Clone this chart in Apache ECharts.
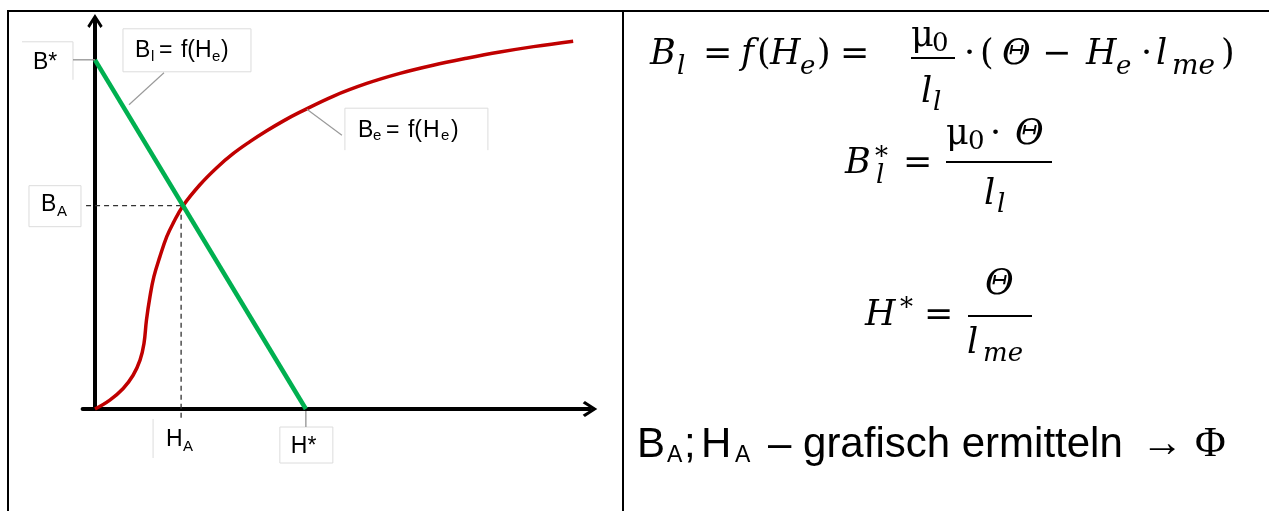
<!DOCTYPE html>
<html>
<head>
<meta charset="utf-8">
<script src="https://cdn.jsdelivr.net/npm/echarts@6/dist/echarts.min.js"></script>
<style>
  html, body { margin: 0; padding: 0; background: #fff; }
  #main { width: 1269px; height: 511px; }
</style>
</head>
<body>
<div id="main"></div>
<script>
// ---- data -------------------------------------------------------------
// Magnetisation curve of the iron path, B_e = f(H_e)
const curveH = [0, 3.0, 5.7, 7.7, 9.1, 9.9, 10.4, 11.1, 11.9, 13.1, 14.5, 15.8, 17.8,
                21.2, 24.6, 27.9, 31.3, 34.7, 38.0, 41.4, 48.1, 54.9, 61.6, 68.3, 75.1, 81.8, 88.6, 96.6];
const curveB = [0, 2.3, 5.3, 8.7, 12.6, 16.9, 22.9, 28.9, 34.1, 39.2, 44.4, 47.9, 52.4,
                57.8, 62.2, 65.8, 68.9, 71.7, 74.2, 76.5, 80.6, 83.9, 86.5, 88.6, 90.4, 92.0, 93.4, 94.8];
// Air-gap line B_l = f(H_e), from B* on the B axis down to H* on the H axis
const B_STAR = 90;
const H_STAR = 42.6;
const lineH = [0, H_STAR];
const lineB = [B_STAR, 0];
// Operating point, found graphically as the intersection
const H_A = 17.8;
const B_A = 52.4;
// Axis annotations
const labelBstar = 'B*';
const labelHstar = 'H*';

// ---- chart ------------------------------------------------------------
const chart = echarts.init(document.getElementById('main'), null, { renderer: 'canvas' });

// open arrow head used at the end of both axes
const CHEVRON = 'path://M8,0 L16,12.4 L13.7,14.6 L8,5.4 L2.3,14.6 L0,12.4 Z';

const dashStyle = { color: '#333', width: 1.3, type: [5, 4] };

chart.setOption({
  animation: false,
  grid: { left: 82.6, right: 679, top: 21, bottom: 102 },
  xAxis: {
    type: 'value', min: -2.5, max: 100,
    axisLine: { onZero: true, symbol: ['none', CHEVRON], symbolSize: [16, 15],
                lineStyle: { color: '#000', width: 4 } },
    axisTick: { show: false }, axisLabel: { show: false }, splitLine: { show: false }
  },
  yAxis: {
    type: 'value', min: 0, max: 100,
    axisLine: { onZero: true, symbol: ['none', CHEVRON], symbolSize: [16, 14],
                lineStyle: { color: '#000', width: 4 } },
    axisTick: { show: false }, axisLabel: { show: false }, splitLine: { show: false }
  },
  series: [
    { // horizontal guide to B_A
      type: 'line', symbol: 'none', clip: false, z: 2,
      data: [[-1.8, B_A], [H_A, B_A]], lineStyle: dashStyle
    },
    { // vertical guide to H_A
      type: 'line', symbol: 'none', clip: false, z: 2,
      data: [[H_A - 0.4, B_A], [H_A - 0.4, -2.3]], lineStyle: dashStyle
    },
    { // B_e = f(H_e)
      type: 'line', symbol: 'none', smooth: 0.4, clip: false, z: 3,
      data: curveH.map((h, i) => [h, curveB[i]]),
      lineStyle: { color: '#c00000', width: 3.5 }
    },
    { // B_l = f(H_e)
      type: 'line', symbol: 'none', clip: false, z: 4,
      data: lineH.map((h, i) => [h, lineB[i]]),
      lineStyle: { color: '#00b050', width: 4.5 }
    }
  ]
});

// ---- annotations ------------------------------------------------------
const SANS = "'Liberation Sans', Arial, sans-serif";
const SERIF = "'DejaVu Serif', serif";
const TIMES = "'Liberation Serif', serif";

function txt(str, x, base, size, italic, family) {
  return {
    type: 'text', x: x, y: base - 0.346 * size, silent: true, z: 10,
    style: {
      text: str, fontSize: size, fontFamily: family || SANS,
      fontStyle: italic ? 'italic' : 'normal', fill: '#000',
      align: 'left', verticalAlign: 'middle'
    }
  };
}
function seg(x1, y1, x2, y2, color, w) {
  return { type: 'line', silent: true, z: 9,
           shape: { x1: x1, y1: y1, x2: x2, y2: y2 },
           style: { stroke: color, lineWidth: w } };
}
function box(x1, y1, x2, y2) {
  return { type: 'rect', silent: true, z: 8,
           shape: { x: x1, y: y1, width: x2 - x1, height: y2 - y1 },
           style: { fill: 'none', stroke: '#dcdcdc', lineWidth: 1 } };
}

const P = (h, b) => chart.convertToPixel({ gridIndex: 0 }, [h, b]);
const aBs = P(0, B_STAR);         // B* on the B axis
const aBA = P(0, B_A);            // B_A on the B axis
const aHA = P(H_A, 0);            // H_A on the H axis
const aHs = P(H_STAR, 0);         // H* on the H axis
const aBe = P(curveH[19], curveB[19]); // point on the magnetisation curve

const LBOX = '#dcdcdc', LEAD = '#9a9a9a';
const g = [];

// frame of the two panels
g.push(seg(8, 11, 1269, 11, '#000', 2));
g.push(seg(8, 10, 8, 511, '#000', 2));
g.push(seg(623, 10, 623, 511, '#000', 2));

// B*
g.push(seg(aBs[0] - 73, aBs[1] - 18, aBs[0] - 22, aBs[1] - 18, LBOX, 1));
g.push(seg(aBs[0] - 22, aBs[1] - 18, aBs[0] - 22, aBs[1] + 20, LBOX, 1));
g.push(seg(aBs[0] - 22, aBs[1], aBs[0], aBs[1], LEAD, 1.4));
g.push(txt(labelBstar, aBs[0] - 62, aBs[1] + 11, 23));

// B_l = f(H_e) callout
g.push(box(aBs[0] + 28, aBs[1] - 31, aBs[0] + 156, aBs[1] + 12));
g.push(seg(aBs[0] + 69, aBs[1] + 13, aBs[0] + 34, aBs[1] + 45, LEAD, 1.2));
[['B', 40, -1, 23], ['l', 56, 2, 15], ['=', 64, -1, 23], ['f(', 86, -1, 23],
 ['H', 100, -1, 23], ['e', 117, 2, 15], [')', 126, -1, 23]]
  .forEach(p => g.push(txt(p[0], aBs[0] + p[1], aBs[1] + p[2], p[3])));

// B_A
g.push(box(aBA[0] - 66, aBA[1] - 20, aBA[0] - 14, aBA[1] + 21));
g.push(txt('B', aBA[0] - 54, aBA[1] + 7, 23));
g.push(txt('A', aBA[0] - 38, aBA[1] + 11, 15));

// H_A
g.push(seg(aHA[0] - 30, aHA[1] + 10, aHA[0] - 30, aHA[1] + 49, LBOX, 1));
g.push(txt('H', aHA[0] - 17, aHA[1] + 39, 23));
g.push(txt('A', aHA[0], aHA[1] + 43, 15));

// H*
g.push(seg(aHs[0], aHs[1] + 2, aHs[0], aHs[1] + 18, LEAD, 1.4));
g.push(box(aHs[0] - 26, aHs[1] + 18, aHs[0] + 27, aHs[1] + 54));
g.push(txt(labelHstar, aHs[0] - 15, aHs[1] + 46, 23));

// B_e = f(H_e) callout
g.push(seg(aBe[0] + 7, aBe[1] - 3, aBe[0] + 42, aBe[1] + 23, LEAD, 1.2));
g.push(seg(aBe[0] + 45, aBe[1] - 4, aBe[0] + 188, aBe[1] - 4, LBOX, 1));
g.push(seg(aBe[0] + 45, aBe[1] - 4, aBe[0] + 45, aBe[1] + 38, LBOX, 1));
g.push(seg(aBe[0] + 188, aBe[1] - 4, aBe[0] + 188, aBe[1] + 38, LBOX, 1));
[['B', 58, 26, 23], ['e', 73, 29, 15], ['=', 86, 26, 23], ['f(', 108, 26, 23],
 ['H', 123, 26, 23], ['e', 141, 29, 15], [')', 151, 26, 23]]
  .forEach(p => g.push(txt(p[0], aBe[0] + p[1], aBe[1] + p[2], p[3])));

// ---- formulas in the right panel --------------------------------------
const M = 35, S = 26;
const formula = [
  // B_l = f(H_e) = mu0 / l_l * (Theta - H_e * l_me)
  ['B', 650, 67, M, 1], ['l', 677, 76, S, 1], ['=', 703, 67, M, 0], ['f', 741, 67, M, 1],
  ['(', 757, 67, M, 0], ['H', 770, 67, M, 1], ['e', 800, 76, S, 1], [')', 817, 67, M, 0],
  ['=', 840, 67, M, 0],
  ['μ', 911, 49, M, 0], ['0', 932, 53, S, 0],
  ['l', 921, 105, M, 1], ['l', 933, 112, S, 1],
  ['·', 964, 67, M, 0], ['(', 980, 67, M, 0], ['Θ', 1002, 67, M, 1], ['−', 1042, 67, M, 0],
  ['H', 1086, 67, M, 1], ['e', 1116, 76, S, 1], ['·', 1141, 67, M, 0], ['l', 1156, 67, M, 1],
  ['me', 1172, 76, 28, 1], [')', 1221, 67, M, 0],
  // B*_l = mu0 * Theta / l_l
  ['B', 845, 176, M, 1], ['*', 875, 167, S, 0], ['l', 876, 185, S, 1], ['=', 903, 176, M, 0],
  ['μ', 946, 147, M, 0], ['0', 968, 151, S, 0], ['·', 990, 147, M, 0], ['Θ', 1015, 147, M, 1],
  ['l', 984, 207, M, 1], ['l', 997, 214, S, 1],
  // H* = Theta / l_me
  ['H', 865, 328, M, 1], ['*', 900, 318, S, 0], ['=', 924, 328, M, 0],
  ['Θ', 985, 297, M, 1], ['l', 967, 356, M, 1], ['me', 983, 363, S, 1]
];
formula.forEach(p => g.push(txt(p[0], p[1], p[2], p[3], p[4], SERIF)));
g.push(seg(911, 58, 955, 58, '#000', 2));
g.push(seg(946, 162, 1052, 162, '#000', 2));
g.push(seg(968, 316, 1032, 316, '#000', 2));

// B_A; H_A - grafisch ermitteln -> Phi
g.push(txt('B', 637, 460, 42));
g.push(txt('A', 667, 464, 23));
g.push(txt(';', 684, 460, 42));
g.push(txt('H', 701, 460, 42));
g.push(txt('A', 735, 464, 23));
g.push(txt('– grafisch ermitteln', 768, 460, 42));
g.push(txt('→', 1141, 460, 42, 0, TIMES));
g.push(txt('Φ', 1195, 460, 42, 0, TIMES));

chart.setOption({ graphic: g });
</script>
</body>
</html>
